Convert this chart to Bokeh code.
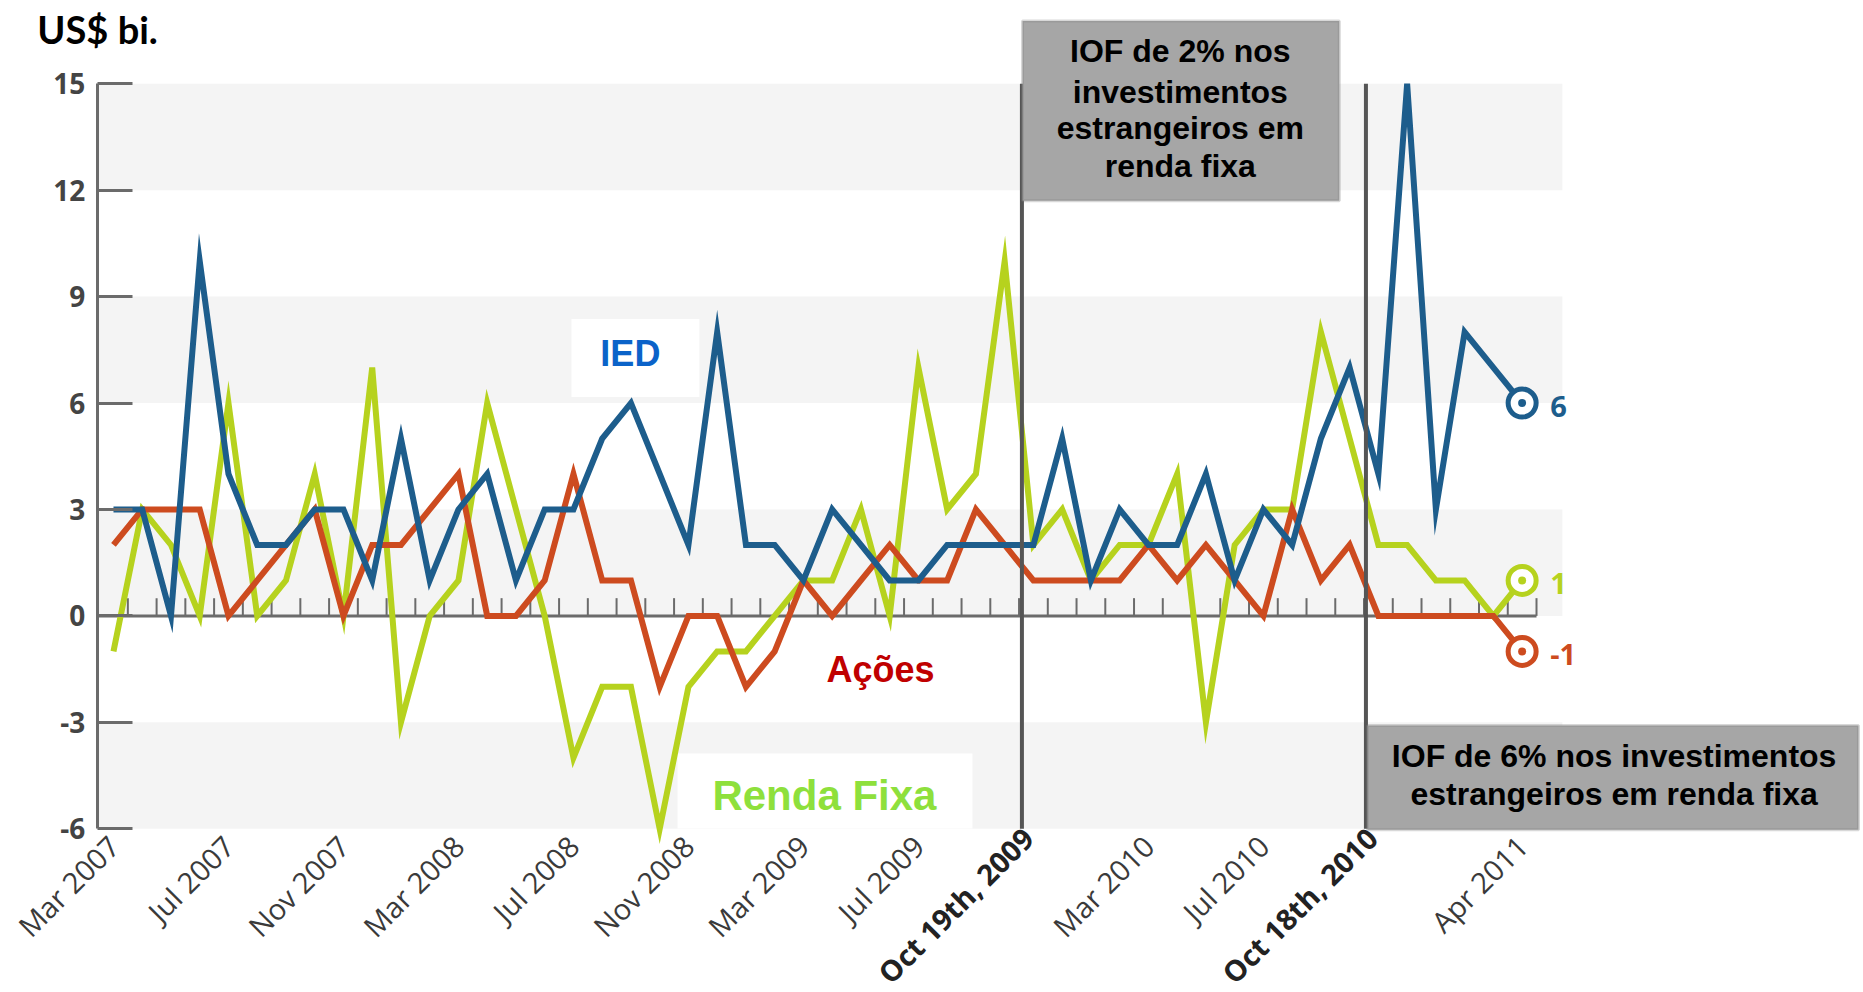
from math import pi
from bokeh.plotting import figure
from bokeh.models import FixedTicker, Label, BoxAnnotation, Range1d
from bokeh.embed import file_html
from bokeh.resources import INLINE

# ---------------- data ----------------
# monthly observations, Mar 2007 .. Apr 2011 (index 0 = Mar 2007)
month_idx = list(range(50))

ied = [3, 3, 0, 10, 4, 2, 2, 3, 3, 1, 5, 1, 3,
       4, 1, 3, 3, 5, 6, 4, 2, 8, 2, 2, 1,
       3, 2, 1, 1, 2, 2, 2, 2, 5, 1, 3, 2,
       2, 4, 1, 3, 2, 5, 7, 4, 15, 3, 8, 7, 6]

acoes = [2, 3, 3, 3, 0, 1, 2, 3, 0, 2, 2, 3, 4,
         0, 0, 1, 4, 1, 1, -2, 0, 0, -2, -1, 1,
         0, 1, 2, 1, 1, 3, 2, 1, 1, 1, 1, 2,
         1, 2, 1, 0, 3, 1, 2, 0, 0, 0, 0, 0, -1]

renda_fixa = [-1, 3, 2, 0, 6, 0, 1, 4, 0, 7, -3, 0, 1,
              6, 3, 0, -4, -2, -2, -6, -2, -1, -1, 0, 1,
              1, 3, 0, 7, 3, 4, 10, 2, 3, 1, 2, 2,
              4, -3, 2, 3, 3, 8, 5, 2, 2, 1, 1, 0, 1]

x_tick_labels = ["Mar 2007", "Jul 2007", "Nov 2007", "Mar 2008", "Jul 2008",
                 "Nov 2008", "Mar 2009", "Jul 2009", "Mar 2010", "Jul 2010",
                 "Apr 2011"]
y_ticks = [-6, -3, 0, 3, 6, 9, 12, 15]

events = [("Oct 19th, 2009", 2009, 10, 19), ("Oct 18th, 2010", 2010, 10, 18)]

box1_lines = ["IOF de 2% nos", "investimentos", "estrangeiros em", "renda fixa"]
box2_lines = ["IOF de 6% nos investimentos", "estrangeiros em renda fixa"]

MONTHS = {"Jan": 1, "Feb": 2, "Mar": 3, "Apr": 4, "May": 5, "Jun": 6,
          "Jul": 7, "Aug": 8, "Sep": 9, "Oct": 10, "Nov": 11, "Dec": 12}


def month_pos(year, month, day=1):
    return (year - 2007) * 12 + (month - 3) + (day - 1) / 30.0


x_tick_pos = [month_pos(int(s.split()[1]), MONTHS[s.split()[0]]) for s in x_tick_labels]
event_x = [month_pos(y, m, d) for _, y, m, d in events]

BLUE = "#1d5d8c"
RED = "#cd4b1f"
GREEN = "#b6d21e"
AXIS = "#6b6b6b"

X0 = -0.56      # position of the vertical value axis (in months)
Y_AX = -6.05    # level of the category labels

# ---------------- figure ----------------
p = figure(width=1860, height=990,
           x_range=Range1d(-3.93, 60.77), y_range=Range1d(-10.558, 17.345),
           output_backend="svg", toolbar_location=None,
           min_border_left=0, min_border_right=0, min_border_top=0,
           min_border_bottom=0)
p.outline_line_color = None
p.grid.visible = False
p.background_fill_color = "white"
p.border_fill_color = "white"

# y axis (drawn inside the frame at X0)
p.yaxis.fixed_location = X0
p.yaxis.ticker = FixedTicker(ticks=y_ticks)
p.yaxis.major_label_overrides = {t: str(t) for t in y_ticks}
p.yaxis.bounds = (y_ticks[0], y_ticks[-1])
p.yaxis.major_tick_in = 35
p.yaxis.major_tick_out = 0
p.yaxis.minor_tick_line_color = None
p.yaxis.axis_line_color = AXIS
p.yaxis.axis_line_width = 3
p.yaxis.major_tick_line_color = AXIS
p.yaxis.major_tick_line_width = 3
p.yaxis.major_label_text_font = "Open Sans"
p.yaxis.major_label_text_font_size = "28px"
p.yaxis.major_label_text_font_style = "bold"
p.yaxis.major_label_text_color = "#444444"
p.yaxis.major_label_standoff = 12

# x axis (drawn inside the frame at Y_AX)
p.xaxis.fixed_location = Y_AX
p.xaxis.ticker = FixedTicker(ticks=x_tick_pos)
p.xaxis.major_label_overrides = {t: s for t, s in zip(x_tick_pos, x_tick_labels)}
p.xaxis.major_label_orientation = pi / 4
p.xaxis.axis_line_color = None
p.xaxis.major_tick_line_color = None
p.xaxis.minor_tick_line_color = None
p.xaxis.major_label_text_font = "Open Sans"
p.xaxis.major_label_text_font_size = "29px"
p.xaxis.major_label_text_color = "#3a3a3a"
p.xaxis.major_label_standoff = 4

# background bands
band_lo = y_ticks[0::2]
band_hi = y_ticks[1::2]
p.quad(left=X0, right=50.4, bottom=band_lo, top=band_hi,
       fill_color="#f4f4f4", line_color=None, level="image")

# white boxes behind series names
p.add_layout(BoxAnnotation(left=15.93, right=20.38, bottom=6.17, top=8.37,
                           fill_color="white", fill_alpha=1, line_color=None,
                           level="underlay"))
p.add_layout(BoxAnnotation(left=19.62, right=29.88, bottom=-5.99, top=-3.88,
                           fill_color="white", fill_alpha=1, line_color=None,
                           level="underlay"))

# zero baseline with monthly ticks
p.segment(x0=[X0], y0=[0], x1=[month_idx[-1] + 0.5], y1=[0],
          line_color=AXIS, line_width=3)
tick_x = [i + 0.5 for i in month_idx]
p.segment(x0=tick_x, y0=[0] * len(tick_x), x1=tick_x, y1=[0.5] * len(tick_x),
          line_color=AXIS, line_width=2)

# series
series = [("Renda Fixa", renda_fixa, GREEN), ("Ações", acoes, RED), ("IED", ied, BLUE)]
for name, vals, col in series:
    p.line(month_idx, vals, line_color=col, line_width=6, line_join="miter")

# end markers and value labels
for name, vals, col in series:
    p.scatter(x=[month_idx[-1]], y=[vals[-1]], size=28, marker="circle",
              fill_color="white", line_color=col, line_width=5)
    p.scatter(x=[month_idx[-1]], y=[vals[-1]], size=8, marker="circle",
              fill_color=col, line_color=None)
    p.add_layout(Label(x=month_idx[-1], y=vals[-1], x_offset=28, y_offset=-3,
                       text=str(vals[-1]),
                       text_align="left", text_baseline="middle",
                       text_font="Open Sans", text_font_style="bold",
                       text_font_size="29px", text_color=col))

# event lines
p.segment(x0=event_x, y0=[y_ticks[0]] * 2, x1=event_x, y1=[y_ticks[-1]] * 2,
          line_color="#555555", line_width=4)

# bold event tick labels
for (txt, *_), ex in zip(events, event_x):
    p.add_layout(Label(x=ex, y=Y_AX, x_offset=6, y_offset=-2, angle=pi / 4, text=txt,
                       text_align="right", text_baseline="middle",
                       text_font="Open Sans", text_font_style="bold",
                       text_font_size="29px", text_color="#222222"))

# annotation boxes
p.add_layout(BoxAnnotation(left=31.62, right=42.64, bottom=11.70, top=16.77,
                           fill_color="#a6a6a6", fill_alpha=1,
                           line_color="#7f7f7f", line_width=3))
p.add_layout(BoxAnnotation(left=43.62, right=60.7, bottom=-6.03, top=-3.09,
                           fill_color="#a6a6a6", fill_alpha=1,
                           line_color="#7f7f7f", line_width=3))
for txt, yy in zip(box1_lines, [15.91, 14.78, 13.74, 12.67]):
    p.add_layout(Label(x=37.11, y=yy, text=txt, text_align="center",
                       text_baseline="middle", text_font="Liberation Sans",
                       text_font_style="bold", text_font_size="32px",
                       text_color="black"))
for txt, yy in zip(box2_lines, [-3.96, -5.03]):
    p.add_layout(Label(x=52.2, y=yy, text=txt, text_align="center",
                       text_baseline="middle", text_font="Liberation Sans",
                       text_font_style="bold", text_font_size="32px",
                       text_color="black"))

# series names
p.add_layout(Label(x=17.98, y=7.39, text="IED", text_align="center",
                   text_baseline="middle", text_font="Liberation Sans",
                   text_font_style="bold", text_font_size="36px",
                   text_color="#0b63c9"))
p.add_layout(Label(x=26.68, y=-1.52, text="Ações", text_align="center",
                   text_baseline="middle", text_font="Liberation Sans",
                   text_font_style="bold", text_font_size="36px",
                   text_color="#c00000"))
p.add_layout(Label(x=24.73, y=-5.06, text="Renda Fixa", text_align="center",
                   text_baseline="middle", text_font="Liberation Sans",
                   text_font_style="bold", text_font_size="42px",
                   text_color="#8ee03c"))

# unit title
p.add_layout(Label(x=-2.65, y=16.55, text="US$ bi.", text_align="left",
                   text_baseline="middle", text_font="Lato",
                   text_font_style="bold", text_font_size="38px",
                   text_color="black"))

open("out.html", "w").write(file_html(p, INLINE))
